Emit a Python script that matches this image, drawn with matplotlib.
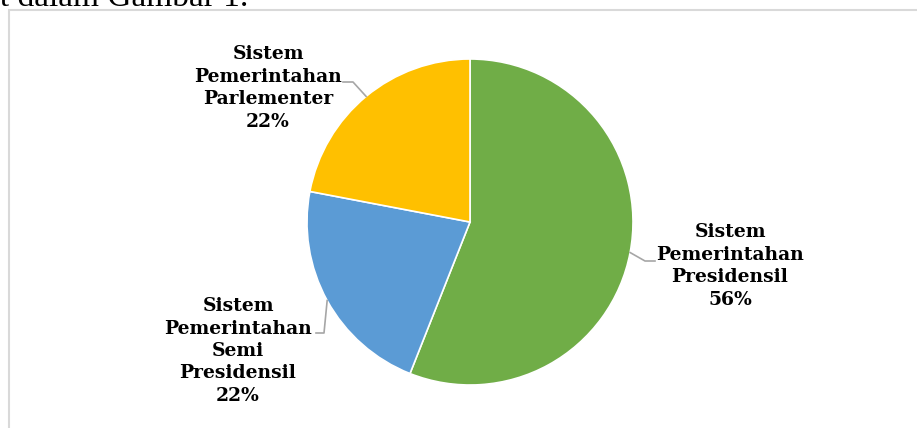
import numpy as np
import matplotlib.pyplot as plt
from matplotlib.patches import Rectangle

# data
labels = ["Sistem\nPemerintahan\nPresidensil", "Sistem\nPemerintahan\nSemi\nPresidensil",
          "Sistem\nPemerintahan\nParlementer"]
values = [56, 22, 22]
colors = ["#70AD47", "#5B9BD5", "#FFC000"]

W, H = 917, 428
fig = plt.figure(figsize=(W / 100, H / 100), dpi=100)

# pie placement in pixels (center, radius)
cx, cy, r = 470, 222, 163
ax = fig.add_axes([(cx - r) / W, (H - cy - r) / H, 2 * r / W, 2 * r / H])

wedges, _ = ax.pie(values, colors=colors, startangle=90, counterclock=False, radius=1,
                   wedgeprops=dict(edgecolor="white", linewidth=1.2))
ax.set_xlim(-1, 1)
ax.set_ylim(-1, 1)
ax.set_aspect("equal")
ax.axis("off")


def px(x, y):
    # pixel position -> pie data coords
    return (x - cx) / r, (cy - y) / r


# label centers and leader elbows (pixels)
text_pos = [(730, 266), (238, 351), (268, 88)]
elbows = [[(645, 261), (655, 261)], [(324, 333), (316, 333)], [(353, 82), (343, 82)]]

font = dict(family="DejaVu Serif", weight="bold", size=13.5, color="black")
for w, lab, v, tp, el in zip(wedges, labels, values, text_pos, elbows):
    mid = np.deg2rad((w.theta1 + w.theta2) / 2)
    pts = [(np.cos(mid), np.sin(mid))] + [px(*p) for p in el]
    xs, ys = zip(*pts)
    ax.plot(xs, ys, color="#A6A6A6", lw=1.2, clip_on=False)
    tx, ty = px(*tp)
    ax.text(tx, ty, f"{lab}\n{v}%", ha="center", va="center", multialignment="center",
            linespacing=1.32, clip_on=False, **font)

# chart frame (cut by the image edges)
fig.patches.append(Rectangle((9 / W, -0.1), 1.0, (H - 10) / H + 0.1, transform=fig.transFigure,
                             fill=False, edgecolor="#D9D9D9", lw=1.5))

# document text above the chart, cropped by the top edge
fig.text(248 / W, 1 - 6 / H, "at dalam Gambar 1.", ha="right", va="baseline",
         family="Liberation Serif", fontsize=24, color="black")

fig.savefig("out.png", dpi=100)
